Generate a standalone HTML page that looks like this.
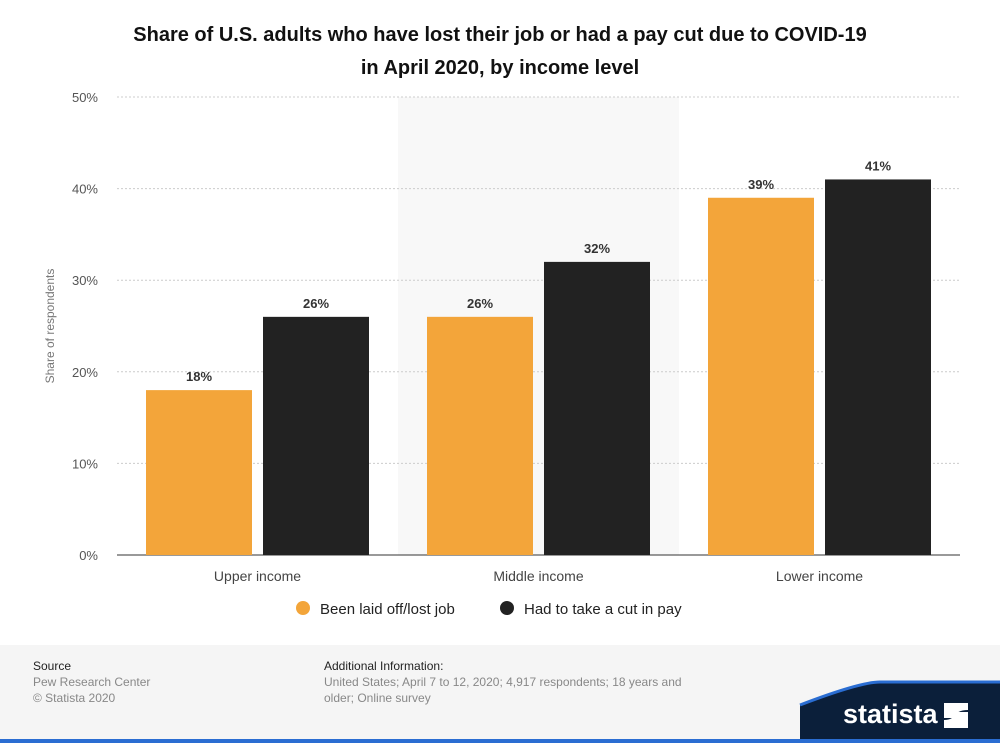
<!DOCTYPE html>
<html><head><meta charset="utf-8"><style>
body{margin:0;width:1000px;height:743px;background:#fff;font-family:"Liberation Sans",Arial,sans-serif;overflow:hidden;position:relative}
.ft{position:absolute;font-size:12px;line-height:16px}
</style></head><body>
<div style="position:absolute;left:0;top:645px;width:1000px;height:98px;background:#f5f5f5"></div>
<svg id="c" width="1000" height="743" style="position:absolute;left:0;top:0">
<text x="500" y="41" text-anchor="middle" font-size="20" font-weight="bold" fill="#111">Share of U.S. adults who have lost their job or had a pay cut due to COVID-19</text>
<text x="500" y="74" text-anchor="middle" font-size="20" font-weight="bold" fill="#111">in April 2020, by income level</text>
<text transform="translate(54,326) rotate(-90)" text-anchor="middle" font-size="12" fill="#777">Share of respondents</text>
<g id="g"></g>
<g>
<circle cx="303" cy="608" r="7" fill="#f3a53a"/>
<text x="320" y="614" font-size="15" fill="#222">Been laid off/lost job</text>
<circle cx="507" cy="608" r="7" fill="#222"/>
<text x="524" y="614" font-size="15" fill="#222">Had to take a cut in pay</text>
</g>
<path d="M800 743 L800 705 Q860 682 880 682 L1000 682 L1000 743 Z" fill="#0b1f3a"/>
<path d="M800 705 Q860 682 880 682 L1000 682" fill="none" stroke="#2a6dd2" stroke-width="3"/>
<rect x="0" y="739" width="1000" height="4" fill="#2a6dd2"/>
<text x="843" y="723" font-size="27" font-weight="bold" fill="#fff">statista</text>
<path d="M944 703 h24 v7 q-12 0 -14 8 h-10z M944 720 q10 0 12 -8 h12 v16 h-24z" fill="#fff"/>
</svg>
<div class="ft" style="left:33px;top:658px;color:#222">Source</div>
<div class="ft" style="left:33px;top:674px;color:#888">Pew Research Center<br>© Statista 2020</div>
<div class="ft" style="left:324px;top:658px;color:#222">Additional Information:</div>
<div class="ft" style="left:324px;top:674px;color:#888;width:380px">United States; April 7 to 12, 2020; 4,917 respondents; 18 years and<br>older; Online survey</div>
<script>
const categories=["Upper income","Middle income","Lower income"];
const laidOff=[18,26,39];
const payCut=[26,32,41];
const yTicks=[0,10,20,30,40,50];
const NS="http://www.w3.org/2000/svg";
const g=document.getElementById('g');
const x0=117,x1=960,y0=555,y1=97,ymax=50;
const y=v=>y0-(v/ymax)*(y0-y1);
const bw=(x1-x0)/categories.length;
function mk(t,a,txt){const e=document.createElementNS(NS,t);for(const k in a)e.setAttribute(k,a[k]);if(txt!=null)e.textContent=txt;g.appendChild(e);return e;}
categories.forEach((c,i)=>{if(i%2==1){const b=mk('rect',{x:x0+i*bw,y:y1,width:bw,height:y0-y1,fill:'#f8f8f8'});

}});
yTicks.forEach(t=>{const l=mk('line',{x1:x0,x2:x1,y1:y(t),y2:y(t),stroke:t==0?'#333':'#ccc','stroke-dasharray':t==0?'':'2,2','stroke-width':1});


const tx=mk('text',{x:98,y:y(t)+5,'text-anchor':'end','font-size':13,fill:'#555'},t+'%');

});
const w=106,gap=11;
categories.forEach((c,i)=>{const cx=x0+(i+0.5)*bw;
[[laidOff,'#f3a53a','laid-off',cx-gap/2-w],[payCut,'#222','pay-cut',cx+gap/2]].forEach(([arr,col,nm,bx])=>{
const r=mk('rect',{x:bx,y:y(arr[i]),width:w,height:y0-y(arr[i]),fill:col});


const t=mk('text',{x:bx+w/2,y:y(arr[i])-9,'text-anchor':'middle','font-size':13,'font-weight':'bold',fill:'#333'},arr[i]+'%');

});
const ct=mk('text',{x:cx,y:581,'text-anchor':'middle','font-size':14,fill:'#444'},c);

});
</script>
</body></html>
